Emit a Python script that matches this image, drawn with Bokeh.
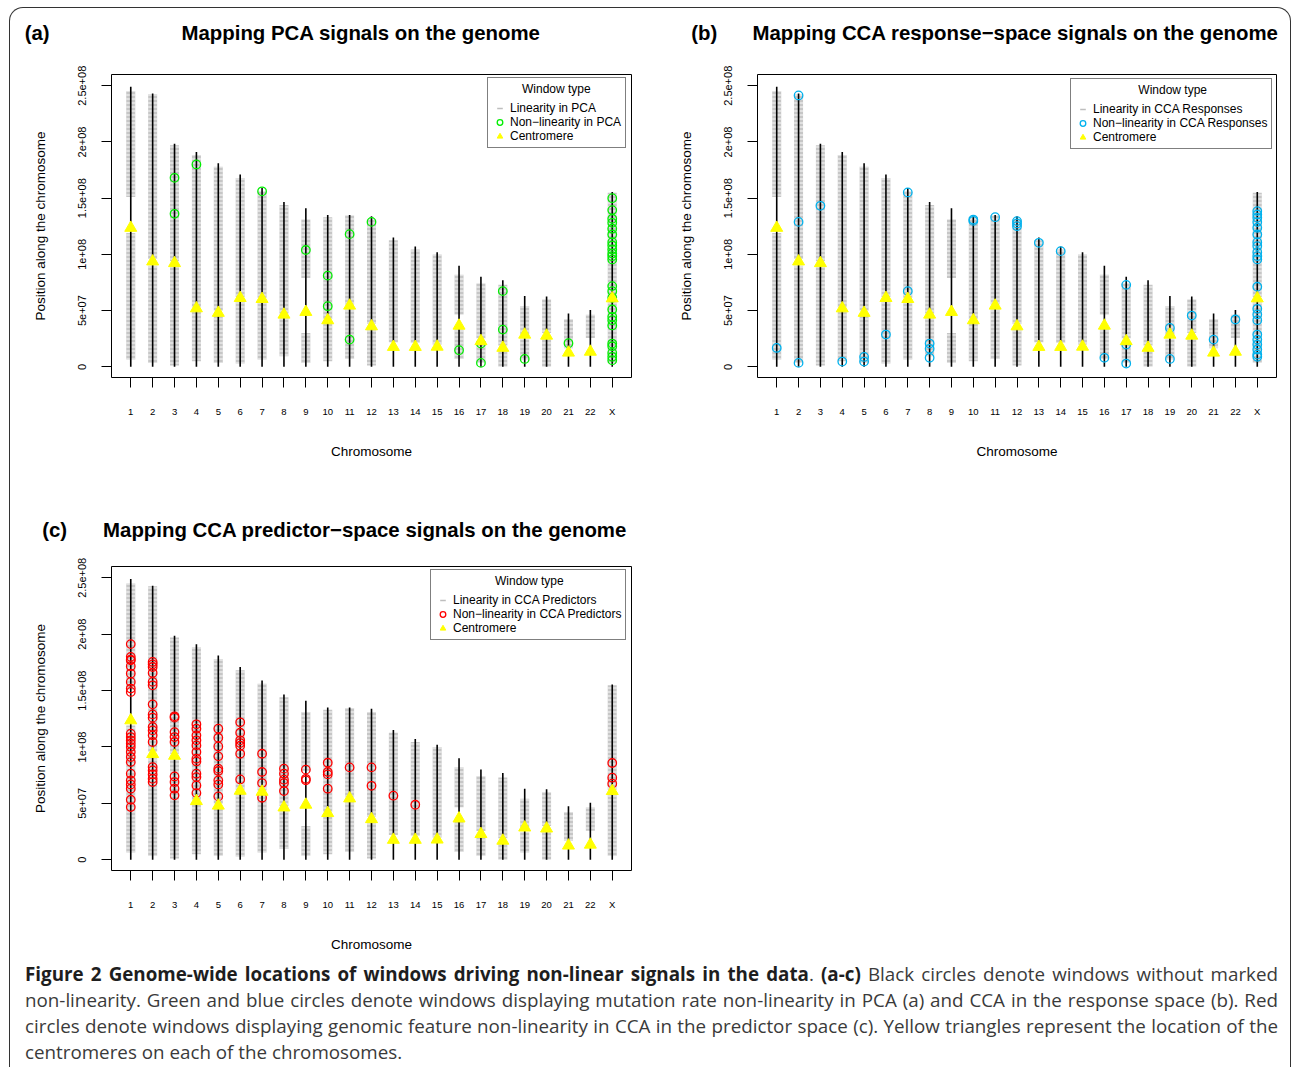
import numpy as np
from bokeh.plotting import figure
from bokeh.models import Range1d, FixedTicker, Legend, LegendItem, Div
from bokeh.layouts import column, row
from bokeh.embed import file_html
from bokeh.resources import INLINE

# ---------------- data (positions in Mb) ----------------
CHROMOSOMES = [str(i) for i in range(1, 23)] + ["X"]
CHROM_INDEX = list(range(1, 24))
CHROM_LENGTH_MB = [249, 243, 198.5, 191, 181, 171, 159, 146.5, 141, 135, 135, 134,
                   115, 107, 102, 90, 80, 77, 63, 62.5, 47.5, 50.5, 155.5]
CENTROMERE_MB = [123.6, 93.7, 92.2, 52.0, 48.0, 61.2, 60.3, 46.4, 48.8, 41.4, 54.4, 36.0,
                 17.7, 17.7, 17.9, 36.6, 22.8, 16.9, 28.6, 27.7, 12.6, 13.4, 60.9]

# contiguous runs of "linear" windows (grey dashes)
LINEAR_CHROM = [1, 1, 2, 2, 3, 3, 4, 4, 5, 5, 6, 6, 7, 7, 8, 8, 9, 9, 10, 10, 11, 11, 12, 12,
                13, 14, 15, 16, 16, 17, 17, 18, 18, 19, 19, 20, 20, 21, 22, 23, 23]
LINEAR_START_MB = [6.5, 151, 3.5, 96, 1.2, 94, 5, 53, 3.5, 50, 3, 62, 6.5, 61.5, 9.5, 47.5,
                   3.5, 79, 5, 42.5, 7, 55.5, 1.2, 38, 21.9, 21.3, 19.8, 7, 46.5, 3.6, 25.5,
                   0.3, 19, 6.4, 28.5, 0.3, 30, 16.6, 25.7, 3.6, 62]
LINEAR_END_MB = [119, 245, 90, 242.5, 89, 197, 49, 188.5, 46, 178, 58.5, 168, 57.5, 156, 43.5, 144,
                 30, 131, 38.5, 133, 51, 134.5, 34, 131, 112.6, 104.4, 99.9, 33.5, 82, 22, 74,
                 15.5, 73, 24.5, 54, 26, 59.8, 42.3, 46.4, 58, 154.8]

# (a) non-linearity in PCA
PCA_NL_CHROM = [3, 3, 4, 7, 9, 10, 10, 11, 11, 12, 16, 17, 17, 18, 18, 19, 21,
                23, 23, 23, 23, 23, 23, 23, 23, 23, 23, 23, 23,
                23, 23, 23, 23, 23, 23, 23, 23, 23, 23, 23, 23]
PCA_NL_MB = [168.1, 136.1, 180.0, 156.1, 103.9, 81.1, 53.9, 118.0, 24.2, 128.9, 14.8, 20.7, 3.5,
             67.3, 33.1, 7.0, 21.0,
             150.0, 139.4, 131.7, 128.1, 122.8, 117.7, 110.9, 107.9, 104.4, 100.8, 98.4, 95.5,
             71.8, 67.3, 61.4, 51.0, 44.5, 41.5, 36.8, 20.7, 18.3, 12.4, 8.9, 5.9]

# (b) non-linearity in CCA responses
RESP_NL_CHROM = [1, 2, 2, 2, 3, 4, 5, 5, 6, 7, 7, 8, 8, 8, 10, 10, 11, 12, 12, 12, 13, 14, 16,
                 17, 17, 17, 19, 19, 20, 21, 22,
                 23, 23, 23, 23, 23, 23, 23, 23, 23, 23, 23,
                 23, 23, 23, 23, 23, 23, 23, 23, 23, 23]
RESP_NL_MB = [16.8, 241.4, 128.9, 3.5, 143.2, 4.7, 8.8, 4.7, 28.7, 155.1, 67.3, 20.7, 16.0, 8.0,
              131.0, 129.8, 133.1, 129.6, 127.5, 125.1, 110.3, 102.9, 8.0, 72.9, 19.8, 2.9,
              34.6, 7.0, 45.6, 24.2, 42.1,
              138.5, 135.5, 132.6, 128.7, 123.7, 117.7, 110.9, 107.4, 102.0, 98.4, 95.5,
              71.2, 51.6, 46.6, 41.5, 28.7, 24.2, 19.8, 15.4, 10.9, 8.9]

# (c) non-linearity in CCA predictors
PRED_NL_CHROM = [1, 1, 1, 1, 1, 1, 1, 1, 1, 1, 1, 1, 1, 1, 1, 1, 1, 1, 1, 1, 1, 1, 1,
                 2, 2, 2, 2, 2, 2, 2, 2, 2, 2, 2, 2, 2, 2, 2, 2, 2, 2,
                 3, 3, 3, 3, 3, 3, 3, 3, 3,
                 4, 4, 4, 4, 4, 4, 4, 4, 4, 4, 4, 4,
                 5, 5, 5, 5, 5, 5, 5, 5, 5,
                 6, 6, 6, 6, 6, 6, 6,
                 7, 7, 7, 7,
                 8, 8, 8, 8, 8,
                 9, 9, 9,
                 10, 10, 10, 10,
                 11, 12, 12, 13, 14,
                 23, 23, 23]
PRED_NL_MB = [191.2, 179.9, 177.5, 176.9, 171.6, 165.1, 157.7, 151.8, 148.8, 111.8, 108.8, 105.9,
              102.9, 99.9, 95.5, 91.1, 86.6, 76.3, 70.4, 66.8, 63.0, 53.2, 46.7,
              175.4, 173.3, 170.9, 165.6, 157.7, 154.7, 137.8, 128.9, 126.0, 117.7, 114.7, 110.3,
              104.4, 82.2, 79.2, 75.7, 71.8, 68.9,
              127.2, 126.0, 113.2, 108.8, 104.4, 73.9, 68.9, 63.0, 57.1,
              120.1, 116.2, 110.3, 105.9, 101.4, 95.5, 89.6, 87.2, 76.3, 73.3, 65.9, 59.1,
              116.2, 108.2, 100.5, 91.7, 80.8, 78.7, 70.4, 66.8, 56.2,
              121.9, 112.6, 105.9, 103.5, 101.1, 94.0, 71.2,
              94.0, 77.8, 68.0, 55.0,
              80.8, 76.3, 71.0, 68.0, 60.9,
              79.9, 71.8, 70.4,
              86.0, 77.8, 75.7, 63.0,
              81.9, 81.9, 65.6, 56.8, 48.8,
              85.8, 72.8, 67.5]

Y_TICKS = [0, 5e7, 1e8, 1.5e8, 2e8, 2.5e8]
Y_TICK_LABELS = ["0", "5e+07", "1e+08", "1.5e+08", "2e+08", "2.5e+08"]

CAPTION_LINES = [
    '<b style="color:#1e1e1e">Figure 2 Genome-wide locations of windows driving non-linear '
    'signals in the data</b>. <b style="color:#1e1e1e">(a-c)</b> Black circles denote windows '
    'without marked',
    'non-linearity. Green and blue circles denote windows displaying mutation rate '
    'non-linearity in PCA (a) and CCA in the response space (b). Red',
    'circles denote windows displaying genomic feature non-linearity in CCA in the predictor '
    'space (c). Yellow triangles represent the location of the',
    'centromeres on each of the chromosomes.',
]

MB = 1e6
FONT = "Liberation Sans"
GREY = "#BEBEBE"


def make_panel(width, height, borders, nl_chrom, nl_mb, nl_color,
               lin_label, nl_label, legend_xy, label_width, title_pad):
    left, right, top, bottom = borders
    p = figure(width=width, height=height, output_backend="svg", toolbar_location=None,
               x_range=Range1d(0.12, 23.88), y_range=Range1d(-9.5e6, 260e6),
               min_border_left=left, min_border_right=right,
               min_border_top=top, min_border_bottom=bottom)
    p.xgrid.visible = False
    p.ygrid.visible = False
    p.background_fill_color = "white"
    p.border_fill_color = "white"
    p.outline_line_color = "black"
    p.outline_line_width = 1

    # grey windows
    starts = np.array(LINEAR_START_MB) * MB
    ends = np.array(LINEAR_END_MB) * MB
    p.rect(x=LINEAR_CHROM, y=(starts + ends) / 2, width=9, width_units="screen",
           height=ends - starts, fill_color="#C6C6C6", line_color=None,
           hatch_pattern="horizontal_line", hatch_color="white", hatch_scale=4,
           hatch_weight=1, hatch_alpha=0.9)
    # chromosome lines
    p.segment(x0=CHROM_INDEX, y0=[0] * 23, x1=CHROM_INDEX,
              y1=list(np.array(CHROM_LENGTH_MB) * MB), line_color="black", line_width=1.6)
    # legend key for linear windows (not plotted: NaN position)
    lin_r = p.scatter(x=[np.nan], y=[np.nan], marker="dash", line_color=GREY,
                      line_width=1.5, size=8)
    nl_r = p.scatter(x=nl_chrom, y=list(np.array(nl_mb) * MB), marker="circle", size=8.5,
                     fill_color=None, line_color=nl_color, line_width=1.3)
    cen_r = p.scatter(x=CHROM_INDEX, y=list(np.array(CENTROMERE_MB) * MB), marker="triangle",
                      size=12, fill_color="#FFFF00", line_color="#FFFF00")

    # axes
    p.xaxis.ticker = FixedTicker(ticks=CHROM_INDEX)
    p.xaxis.major_label_overrides = {i: lab for i, lab in zip(CHROM_INDEX, CHROMOSOMES)}
    p.yaxis.ticker = FixedTicker(ticks=Y_TICKS)
    p.yaxis.major_label_overrides = {t: lab for t, lab in zip(Y_TICKS, Y_TICK_LABELS)}
    p.yaxis.major_label_orientation = "vertical"
    for ax in (p.xaxis[0], p.yaxis[0]):
        ax.axis_line_color = None
        ax.major_tick_in = 0
        ax.major_tick_out = 10
        ax.major_tick_line_color = "black"
        ax.minor_tick_line_color = None
        ax.major_label_text_font = FONT
        ax.major_label_text_color = "black"
        ax.axis_label_text_font = FONT
        ax.axis_label_text_font_style = "normal"
        ax.axis_label_text_font_size = "13.5px"
        ax.axis_label_text_color = "black"
    p.xaxis.major_label_text_font_size = "9.5px"
    p.yaxis.major_label_text_font_size = "11px"
    p.xaxis.major_label_standoff = 18
    p.yaxis.major_label_standoff = 15
    p.xaxis.axis_label_standoff = 24
    p.yaxis.axis_label_standoff = 28
    p.xaxis.axis_label = "Chromosome"
    p.yaxis.axis_label = "Position along the chromosome"

    legend = Legend(items=[LegendItem(label=lin_label, renderers=[lin_r]),
                           LegendItem(label=nl_label, renderers=[nl_r]),
                           LegendItem(label="Centromere", renderers=[cen_r])],
                    location=legend_xy, title="\u00a0" * title_pad + "Window type")
    legend.title_text_font = FONT
    legend.title_text_font_size = "12px"
    legend.title_text_font_style = "normal"
    legend.title_text_color = "black"
    legend.title_standoff = 5
    legend.label_text_font = FONT
    legend.label_text_font_size = "12px"
    legend.label_text_color = "black"
    legend.padding = 4
    legend.margin = 0
    legend.spacing = 0
    legend.glyph_width = 15
    legend.glyph_height = 14
    legend.label_height = 14
    legend.label_standoff = 3
    legend.label_width = label_width
    legend.border_line_color = "black"
    legend.border_line_width = 1
    legend.background_fill_color = "white"
    legend.background_fill_alpha = 1
    p.add_layout(legend)
    return p


def heading(width, height, tag, tag_x, title, title_x, y):
    span = ("position:absolute;top:{y}px;left:{x}px;transform:translate(-50%,-50%);"
            "white-space:nowrap;line-height:1;")
    html = ('<div style="position:relative;width:{w}px;height:{h}px;font-family:\'Liberation Sans\','
            'Arial,sans-serif;font-weight:bold;font-size:20.4px;color:#000;">'
            '<span style="{s1}">{tag}</span><span style="{s2}">{title}</span></div>').format(
        w=width, h=height, tag=tag, title=title,
        s1=span.format(x=tag_x, y=y), s2=span.format(x=title_x, y=y))
    return Div(text=html, width=width, height=height, margin=0)


pa = make_panel(646, 439, (101, 25, 18, 118), PCA_NL_CHROM, PCA_NL_MB, "#00EE00",
                "Linearity in PCA", "Non\u2212linearity in PCA", (376, 229), 106, 9)
pb = make_panel(634, 439, (101, 14, 18, 118), RESP_NL_CHROM, RESP_NL_MB, "#00B2EE",
                "Linearity in CCA Responses", "Non\u2212linearity in CCA Responses",
                (313, 228), 169, 19)
pc = make_panel(646, 414, (101, 25, 21, 89), PRED_NL_CHROM, PRED_NL_MB, "#FF0000",
                "Linearity in CCA Predictors", "Non\u2212linearity in CCA Predictors",
                (319, 230), 164, 18)

ha = heading(646, 48, "(a)", 27.2, "Mapping PCA signals on the genome", 350.7, 24.7)
hb = heading(634, 48, "(b)", 48.2, "Mapping CCA response\u2212space signals on the genome",
             359.2, 24.7)
hc = heading(646, 50, "(c)", 44.7, "Mapping CCA predictor\u2212space signals on the genome",
             354.7, 34.7)

line_divs = []
for k, line in enumerate(CAPTION_LINES):
    last = k == len(CAPTION_LINES) - 1
    line_divs.append('<div style="text-align:{a};text-align-last:{a};">{t}</div>'.format(
        a="left" if last else "justify", t=line))
caption_html = (
    '<div style="width:1280px;box-sizing:border-box;font-family:\'Open Sans\',sans-serif;'
    'font-size:18.8px;line-height:26px;color:#3a3a3a;padding:2px 12px 0 15px;">'
    + "".join(line_divs) + '</div>'
)
caption = Div(text=caption_html, width=1280, height=108, margin=0)

layout = column(row(column(ha, pa), column(hb, pb)), row(column(hc, pc)), caption,
                margin=(7, 0, 0, 9),
                styles={"border-top": "1.3px solid #333", "border-left": "1.3px solid #333",
                        "border-right": "1.3px solid #333",
                        "border-radius": "14px 14px 0 0", "background": "white"})

open("out.html", "w").write(file_html(layout, INLINE))
